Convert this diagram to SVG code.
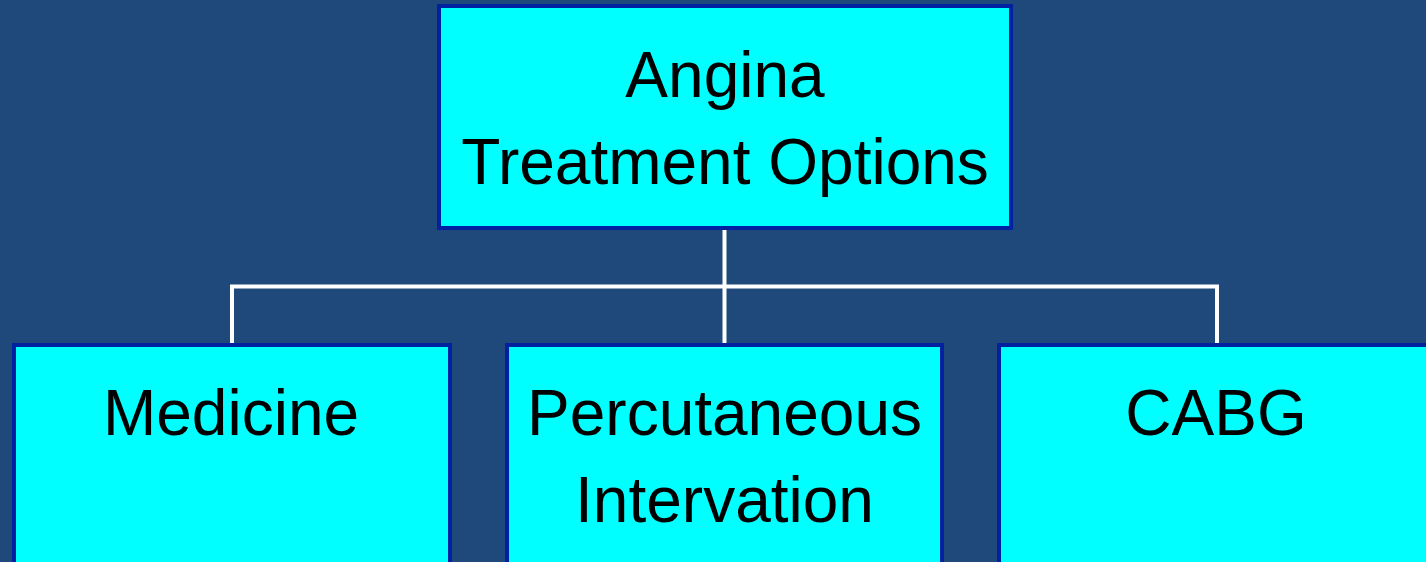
<svg xmlns="http://www.w3.org/2000/svg" width="1426" height="562" viewBox="0 0 1426 562">
<style>
.box{fill:#00FFFF;stroke:#0022A0;stroke-width:4}
.lbl{font-family:"Liberation Sans",Arial,sans-serif;font-size:64px;fill:#000;text-anchor:middle}
.con{stroke:#FFFFFF;stroke-width:4;fill:none}
</style>
<rect width="1426" height="562" fill="#1F497B"/>
<g id="connectors">
<line class="con" x1="724.5" y1="229" x2="724.5" y2="344"/>
<polyline class="con" points="232,344 232,286.5 1217,286.5 1217,344"/>
</g>
<g id="root">
<rect class="box" x="439" y="6" width="572" height="222"/>
<text class="lbl" x="725" y="97">Angina</text>
<text class="lbl" x="725" y="184">Treatment Options</text>
</g>
<g id="medicine">
<rect class="box" x="14" y="345" width="436" height="230"/>
<text class="lbl" x="231" y="435">Medicine</text>
</g>
<g id="percutaneous">
<rect class="box" x="507" y="345" width="435" height="230"/>
<text class="lbl" x="724.5" y="435">Percutaneous</text>
<text class="lbl" x="724.5" y="522">Intervation</text>
</g>
<g id="cabg">
<rect class="box" x="999" y="345" width="440" height="230"/>
<text class="lbl" x="1216" y="435">CABG</text>
</g>
</svg>
